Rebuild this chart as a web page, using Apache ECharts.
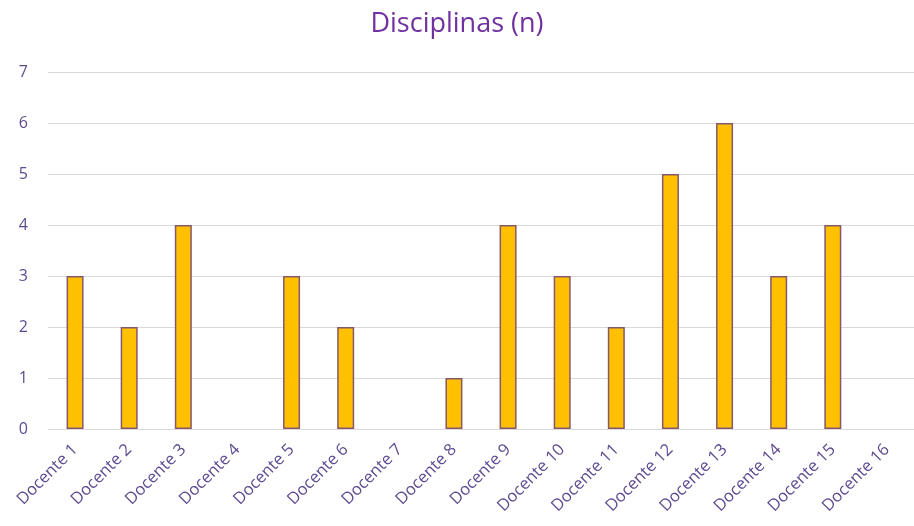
<!DOCTYPE html>
<html>
<head>
<meta charset="utf-8">
<script src="https://cdn.jsdelivr.net/npm/echarts@6/dist/echarts.min.js"></script>
<style>
  html, body { margin: 0; padding: 0; background: #fff; }
  #chart { width: 914px; height: 526px; }
</style>
</head>
<body>
<div id="chart"></div>
<script>
// categorias e valores
const docentes = ['Docente 1', 'Docente 2', 'Docente 3', 'Docente 4', 'Docente 5', 'Docente 6',
  'Docente 7', 'Docente 8', 'Docente 9', 'Docente 10', 'Docente 11', 'Docente 12',
  'Docente 13', 'Docente 14', 'Docente 15', 'Docente 16'];
const disciplinas = [3, 2, 4, 0, 3, 2, 0, 1, 4, 3, 2, 5, 6, 3, 4, 0];
const titulo = 'Disciplinas (n)';

const chart = echarts.init(document.getElementById('chart'));
chart.setOption({
  animation: false,
  title: {
    text: titulo,
    left: 'center',
    top: 6,
    textStyle: {
      color: '#7030A0',
      fontFamily: 'Open Sans',
      fontWeight: 'normal',
      fontSize: 27
    }
  },
  grid: {
    left: 48,
    top: 72,
    width: 876,
    height: 357
  },
  xAxis: {
    type: 'category',
    data: docentes,
    axisTick: { show: false },
    axisLine: { lineStyle: { color: '#d9d9d9', width: 1 } },
    axisLabel: {
      rotate: 45,
      interval: 0,
      margin: 18,
      color: '#5e4b91',
      fontFamily: 'Open Sans',
      fontSize: 16.5
    }
  },
  yAxis: {
    type: 'value',
    min: 0,
    max: 7,
    interval: 1,
    axisLine: { show: false },
    axisTick: { show: false },
    splitLine: { lineStyle: { color: '#d9d9d9', width: 1 } },
    axisLabel: {
      margin: 20,
      color: '#5e4b91',
      fontFamily: 'Open Sans',
      fontSize: 16
    }
  },
  series: [{
    type: 'bar',
    // zeros sem contorno, como no original
    data: disciplinas.map(v => v === 0 ? { value: v, itemStyle: { borderWidth: 0 } } : v),
    barWidth: 17,
    itemStyle: {
      color: '#FFC000',
      borderColor: '#86586a',
      borderWidth: 1.5
    }
  }]
});
</script>
</body>
</html>
